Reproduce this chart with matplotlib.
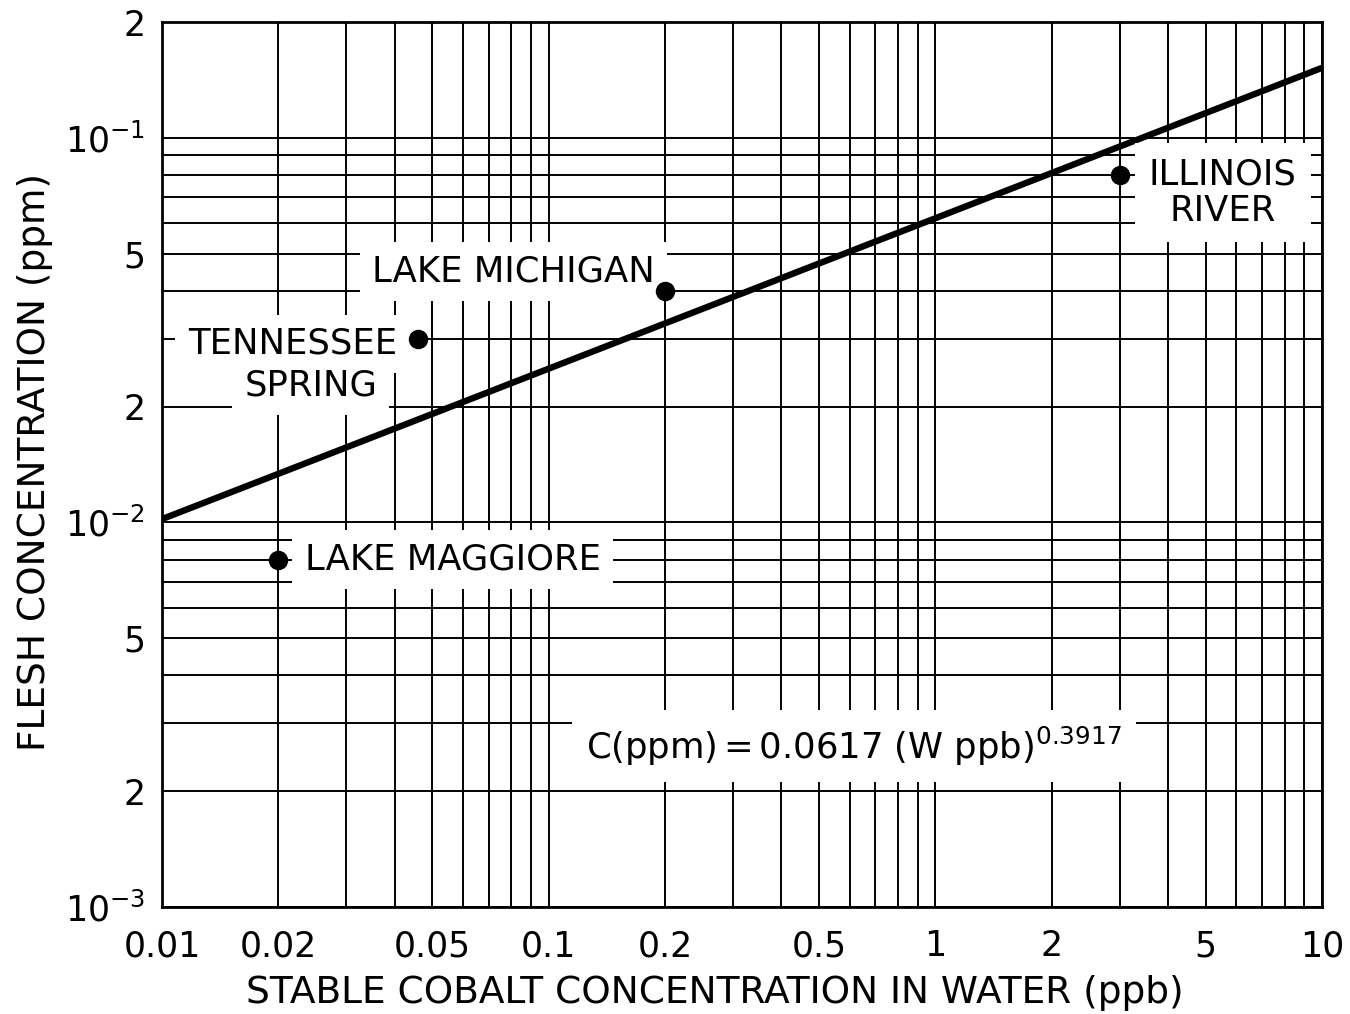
import matplotlib
matplotlib.use("Agg")
import matplotlib.pyplot as plt
import numpy as np

# ---- data ----
site_names = ["LAKE MAGGIORE", "TENNESSEE\nSPRING", "LAKE MICHIGAN", "ILLINOIS\nRIVER"]
site_water_ppb = [0.02, 0.046, 0.2, 3.0]
site_flesh_ppm = [0.008, 0.030, 0.040, 0.080]

fit_x = [0.01, 10.0]          # ends of the fitted line
fit_y = [0.0102, 0.152]

x_ticks = [0.01, 0.02, 0.05, 0.1, 0.2, 0.5, 1, 2, 5, 10]
x_ticklabels = ["0.01", "0.02", "0.05", "0.1", "0.2", "0.5", "1", "2", "5", "10"]
y_ticks = [0.001, 0.002, 0.005, 0.01, 0.02, 0.05, 0.1, 0.2]
y_ticklabels = [r"$10^{-3}$", "2", "5", r"$10^{-2}$", "2", "5", r"$10^{-1}$", "2"]

plt.rcParams['font.family'] = ['DejaVu Sans']
plt.rcParams['mathtext.fontset'] = 'dejavusans'

fig = plt.figure(figsize=(13.5, 10.14), dpi=100)
ax = fig.add_axes([162/1350, 1-907/1014, (1322-162)/1350, (907-22)/1014])
ax.set_xscale('log')
ax.set_yscale('log')
ax.set_xlim(0.01, 10)
ax.set_ylim(0.001, 0.2)

# grid lines at every 1..9 multiple
ax.set_xticks(x_ticks)
ax.set_xticklabels(x_ticklabels)
ax.set_yticks(y_ticks)
ax.set_yticklabels(y_ticklabels)
ax.xaxis.set_minor_locator(matplotlib.ticker.LogLocator(base=10, subs=np.arange(1, 10)))
ax.yaxis.set_minor_locator(matplotlib.ticker.LogLocator(base=10, subs=np.arange(1, 10)))
ax.xaxis.set_minor_formatter(matplotlib.ticker.NullFormatter())
ax.yaxis.set_minor_formatter(matplotlib.ticker.NullFormatter())
ax.grid(True, which='both', color='black', linewidth=1.4)
ax.set_axisbelow(True)
ax.tick_params(which='both', length=0)
ax.tick_params(axis='x', labelsize=25, pad=16)
ax.tick_params(axis='y', labelsize=25, pad=12)
for s in ax.spines.values():
    s.set_linewidth(2)

ax.plot(fit_x, fit_y, color='black', linewidth=4.6, zorder=4, solid_capstyle='butt')
ax.plot(site_water_ppb, site_flesh_ppm, 'o', color='black', markersize=13, zorder=6)

fs = 25.5


def label(x, y, s, ha, pad=0.35, **kw):
    # white knock-out box first (under all label text), then the text itself
    ax.text(x, y, s, fontsize=fs, ha=ha, va='center', color='none', zorder=5,
            bbox=dict(facecolor='white', edgecolor='none',
                      boxstyle='square,pad=%g' % pad), **kw)
    ax.text(x, y, s, fontsize=fs, ha=ha, va='center', color='black', zorder=7, **kw)


label(0.0234, 0.0080, "LAKE MAGGIORE", 'left')
label(0.0405, 0.0291, "TENNESSEE", 'right')
label(0.0360, 0.02265, "SPRING", 'right')
label(0.1883, 0.0450, "LAKE MICHIGAN", 'right')
label(5.54, 0.0721, "ILLINOIS\nRIVER", 'center', pad=0.4,
      multialignment='center', linespacing=1.1)
label(0.125, 0.00262, r"C(ppm)$\,$=$\,$0.0617 (W ppb)$^{0.3917}$", 'left', pad=0.4)

fig.text(715/1350, 1-993/1014, "STABLE COBALT CONCENTRATION IN WATER (ppb)",
         fontsize=27, ha='center', va='center')
fig.text(35/1350, 1-462/1014, "FLESH CONCENTRATION (ppm)", fontsize=27,
         ha='center', va='center', rotation=90)

fig.savefig("out.png", dpi=100)
